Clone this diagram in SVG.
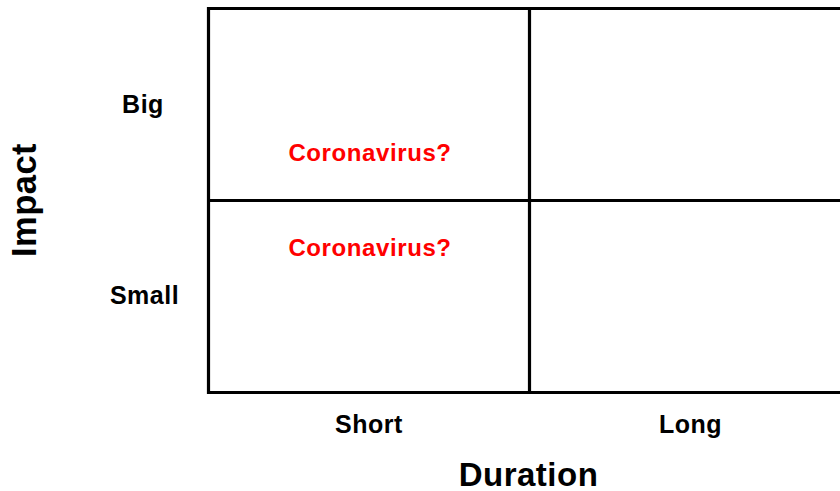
<svg xmlns="http://www.w3.org/2000/svg" width="840" height="491" viewBox="0 0 840 491">
<style>
.grid{stroke:#000;stroke-width:3.2;fill:none}
.lbl{font-family:"Liberation Sans",Arial,sans-serif;font-weight:bold;fill:#000;text-anchor:middle;letter-spacing:0.5px}
.red{font-family:"Liberation Sans",Arial,sans-serif;font-weight:bold;fill:#ff0000;text-anchor:middle;font-size:24px;letter-spacing:0.6px}
</style>
<rect width="840" height="491" fill="#fff"/>
<g id="connectors">
<path class="grid" d="M844 8.5 H208.5 V392.5 H844 M208.5 200.5 H844 M529.5 8.5 V392.5"/>
</g>
<g id="axis-impact"><text class="lbl" font-size="34.5" transform="translate(36,200) rotate(-90)">Impact</text></g>
<g id="label-big"><text class="lbl" font-size="25" x="143" y="113">Big</text></g>
<g id="label-small"><text class="lbl" font-size="25" x="144.5" y="304">Small</text></g>
<g id="label-short"><text class="lbl" font-size="25" x="369" y="433">Short</text></g>
<g id="label-long"><text class="lbl" font-size="25" x="690.5" y="433">Long</text></g>
<g id="axis-duration"><text class="lbl" font-size="33" x="528.5" y="486">Duration</text></g>
<g id="note-big-short"><text class="red" x="370" y="161">Coronavirus?</text></g>
<g id="note-small-short"><text class="red" x="370" y="256">Coronavirus?</text></g>
</svg>
